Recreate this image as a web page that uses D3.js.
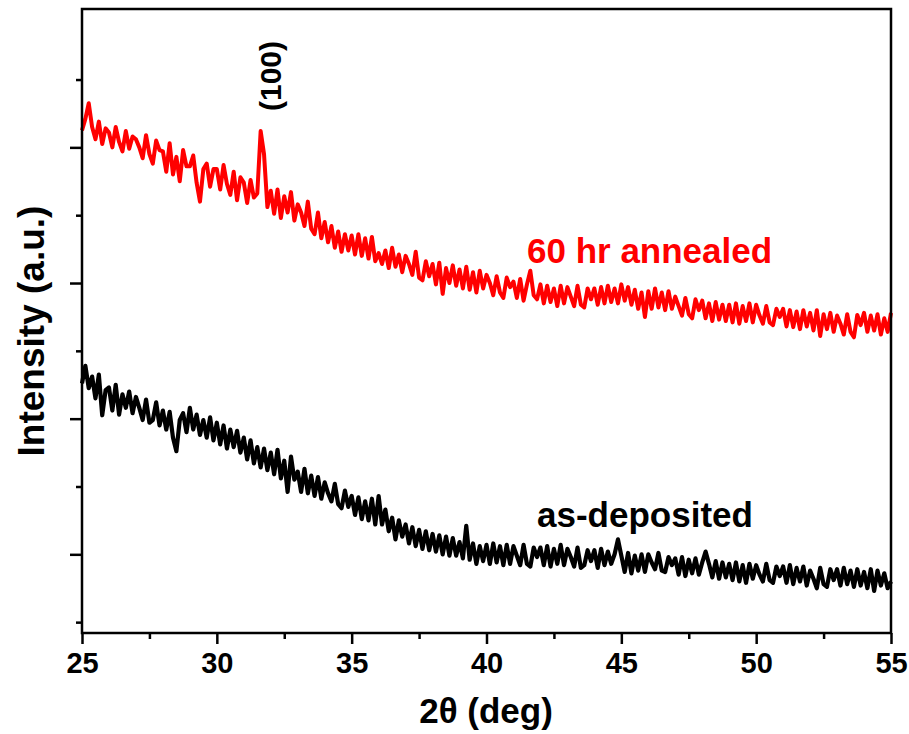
<!DOCTYPE html>
<html>
<head>
<meta charset="utf-8">
<script src="https://cdn.jsdelivr.net/npm/d3@7"></script>
<style>
  body { margin: 0; background: #fff; }
  text { font-family: "Liberation Sans", Arial, sans-serif; font-weight: bold; }
</style>
</head>
<body>
<script>
// scan grid: 25 -> 55 deg, 0.125 deg step
const thetaStart = 25
const thetaStep = 0.125

// 60 hr annealed (counts, a.u.), one row per degree
const annealed = [
  725, 742, 765, 730, 712, 738, 705, 728,
  722, 700, 730, 708, 694, 724, 698, 716,
  712, 700, 684, 718, 690, 676, 710, 696,
  694, 664, 706, 660, 686, 650, 696, 672,
  672, 688, 648, 620, 668, 676, 642, 668,
  668, 638, 674, 646, 630, 664, 622, 656,
  648, 618, 652, 626, 632, 724, 690, 612,
  636, 602, 638, 596, 628, 604, 634, 592,
  616, 604, 584, 620, 580, 572, 604, 566,
  590, 560, 584, 552, 576, 546, 572, 548,
  570, 542, 572, 540, 566, 536, 568, 532,
  544, 528, 548, 522, 552, 524, 542, 516,
  540, 528, 512, 546, 508, 504, 532, 510,
  528, 498, 530, 484, 522, 500, 526, 496,
  520, 492, 524, 490, 516, 486, 518, 492,
  512, 500, 482, 510, 486, 478, 508, 494,
  502, 478, 506, 474, 498, 518, 482, 476,
  498, 470, 496, 472, 492, 466, 496, 470,
  494, 480, 466, 496, 468, 464, 492, 476,
  492, 468, 494, 470, 496, 472, 492, 470,
  498, 474, 494, 468, 490, 462, 486, 450,
  488, 462, 492, 464, 486, 460, 488, 462,
  480, 466, 452, 478, 454, 448, 476, 460,
  474, 448, 470, 444, 472, 446, 468, 444,
  468, 442, 470, 440, 466, 444, 470, 442,
  468, 452, 440, 466, 442, 438, 462, 450,
  462, 436, 460, 435, 458, 432, 460, 436,
  456, 430, 460, 422, 454, 432, 456, 428,
  452, 440, 424, 454, 428, 420, 453, 438,
  456, 428, 452, 430, 454, 424, 448, 428,
  456
]

// as-deposited
const asDeposited = [
  352, 378, 345, 362, 330, 365, 305, 342,
  346, 312, 350, 306, 336, 316, 340, 308,
  332, 316, 298, 328, 294, 298, 324, 290,
  312, 284, 310, 272, 252, 298, 308, 280,
  316, 284, 306, 276, 298, 272, 302, 268,
  294, 262, 290, 256, 284, 258, 282, 250,
  272, 240, 268, 234, 258, 228, 256, 224,
  250, 218, 254, 212, 238, 192, 244, 210,
  222, 192, 226, 190, 216, 186, 214, 182,
  206, 190, 178, 204, 174, 168, 194, 170,
  186, 158, 184, 152, 178, 150, 182, 144,
  186, 144, 166, 134, 154, 122, 150, 126,
  144, 116, 140, 112, 136, 108, 134, 106,
  130, 104, 128, 100, 126, 98, 124, 98,
  118, 94, 142, 92, 116, 86, 112, 90,
  114, 86, 116, 88, 112, 84, 114, 86,
  112, 98, 84, 114, 86, 82, 110, 96,
  110, 84, 112, 82, 108, 86, 114, 84,
  108, 96, 82, 110, 80, 84, 106, 90,
  106, 80, 108, 84, 104, 86, 100, 122,
  98, 74, 102, 72, 98, 76, 100, 74,
  100, 88, 78, 102, 76, 74, 96, 84,
  94, 70, 96, 68, 92, 72, 94, 70,
  88, 104, 86, 66, 90, 64, 88, 66,
  86, 62, 88, 60, 84, 58, 86, 64,
  84, 70, 60, 86, 62, 58, 82, 68,
  82, 58, 84, 56, 80, 60, 82, 54,
  76, 64, 50, 80, 56, 52, 78, 62,
  78, 54, 80, 56, 76, 52, 78, 54,
  74, 50, 78, 46, 76, 54, 72, 50,
  60
]

const xTicks = [25, 30, 35, 40, 45, 50, 55]
const xMinorTicks = [27.5, 32.5, 37.5, 42.5, 47.5, 52.5]
const yMajorTicks = [100, 300, 500, 700]
const yMinorTicks = [0, 200, 400, 600, 800]

const width = 909, height = 734
const margin = {top: 9, right: 18, bottom: 101, left: 82}

const svg = d3.select('body').append('svg')
  .attr('width', width)
  .attr('height', height)

const x = d3.scaleLinear().domain([25, 55]).range([margin.left, width - margin.right])
const y = d3.scaleLinear().domain([-16, 904]).range([height - margin.bottom, margin.top])

const toPoints = arr => arr.map((v, i) => [thetaStart + i * thetaStep, v])

const line = d3.line()
  .x(d => x(d[0]))
  .y(d => y(d[1]))

// curves
svg.append('path')
  .datum(toPoints(annealed))
  .attr('fill', 'none')
  .attr('stroke', '#ff0000')
  .attr('stroke-width', 4)
  .attr('stroke-linejoin', 'round')
  .attr('d', line)

svg.append('path')
  .datum(toPoints(asDeposited))
  .attr('fill', 'none')
  .attr('stroke', '#000')
  .attr('stroke-width', 4.2)
  .attr('stroke-linejoin', 'round')
  .attr('d', line)

// frame
svg.append('rect')
  .attr('x', margin.left)
  .attr('y', margin.top)
  .attr('width', width - margin.left - margin.right)
  .attr('height', height - margin.top - margin.bottom)
  .attr('fill', 'none')
  .attr('stroke', '#000')
  .attr('stroke-width', 2.5)

// x axis
const xAxis = svg.append('g')
  .attr('transform', 'translate(0,' + (height - margin.bottom) + ')')
  .call(d3.axisBottom(x).tickValues(xTicks).tickSize(11).tickPadding(8).tickFormat(d3.format('d')))
xAxis.select('.domain').remove()
xAxis.selectAll('line').attr('stroke-width', 2.5)
xAxis.selectAll('text')
  .attr('font-size', 29)
  .style('font-family', '"Liberation Sans Narrow", "Liberation Sans", Arial, sans-serif')
  .attr('fill', '#000')

const xMinor = svg.append('g')
  .attr('transform', 'translate(0,' + (height - margin.bottom) + ')')
  .call(d3.axisBottom(x).tickValues(xMinorTicks).tickSize(6).tickFormat(''))
xMinor.select('.domain').remove()
xMinor.selectAll('line').attr('stroke-width', 2.5)

// y axis (no labels)
const yAxis = svg.append('g')
  .attr('transform', 'translate(' + margin.left + ',0)')
  .call(d3.axisLeft(y).tickValues(yMajorTicks).tickSize(12).tickFormat(''))
yAxis.select('.domain').remove()
yAxis.selectAll('line').attr('stroke-width', 2.5)

const yMinor = svg.append('g')
  .attr('transform', 'translate(' + margin.left + ',0)')
  .call(d3.axisLeft(y).tickValues(yMinorTicks).tickSize(6).tickFormat(''))
yMinor.select('.domain').remove()
yMinor.selectAll('line').attr('stroke-width', 2.5)

// axis titles
svg.append('text')
  .attr('x', 486)
  .attr('y', 723)
  .attr('text-anchor', 'middle')
  .attr('font-size', 35)
  .text('2θ (deg)')

svg.append('text')
  .attr('transform', 'translate(44,331) rotate(-90)')
  .attr('text-anchor', 'middle')
  .attr('font-size', 37)
  .text('Intensity (a.u.)')

// annotations
svg.append('text')
  .attr('transform', 'translate(281,76) rotate(-90)')
  .attr('text-anchor', 'middle')
  .attr('font-size', 30)
  .text('(100)')

svg.append('text')
  .attr('x', 527)
  .attr('y', 263)
  .attr('fill', '#ff0000')
  .attr('font-size', 35)
  .text('60 hr annealed')

svg.append('text')
  .attr('x', 537)
  .attr('y', 527)
  .attr('fill', '#000')
  .attr('font-size', 35)
  .text('as-deposited')
</script>
</body>
</html>
